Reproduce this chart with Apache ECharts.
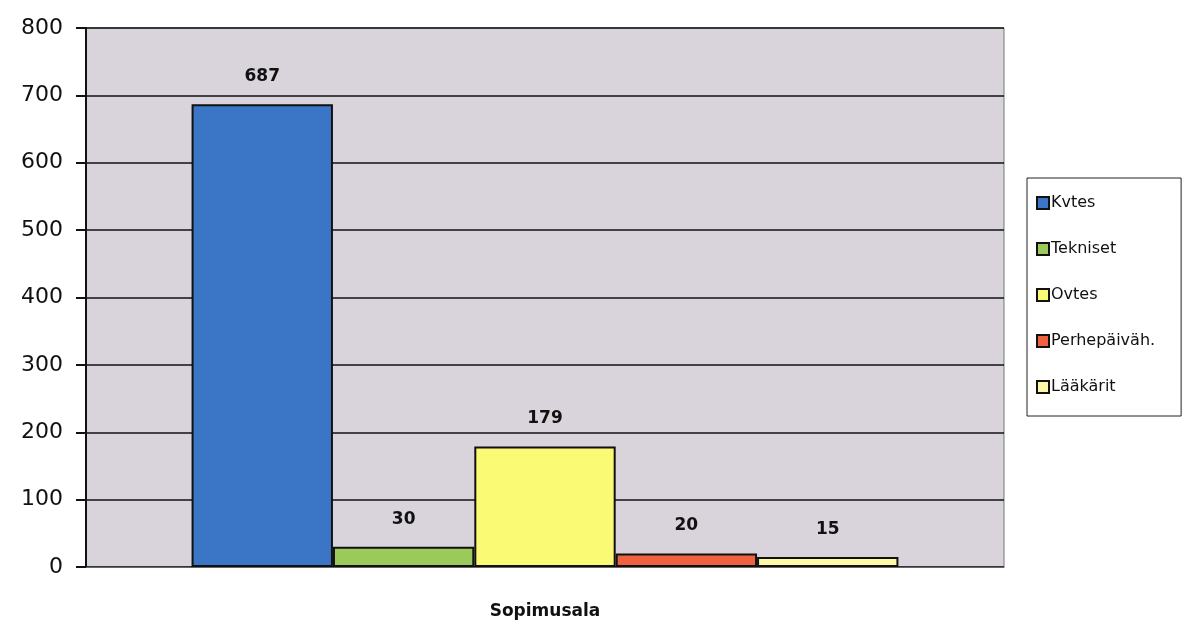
<!DOCTYPE html>
<html>
<head>
<meta charset="utf-8">
<script src="https://cdn.jsdelivr.net/npm/echarts@6/dist/echarts.min.js"></script>
<style>
  html, body { margin: 0; padding: 0; background: #ffffff; }
  #chart { width: 1182px; height: 627px; }
</style>
</head>
<body>
<div id="chart"></div>
<script>
// Sopimusala-kohtaiset määrät
const categories = ['Sopimusala'];
const seriesNames = ['Kvtes', 'Tekniset', 'Ovtes', 'Perhepäiväh.', 'Lääkärit'];
const seriesValues = [687, 30, 179, 20, 15];
const seriesColors = ['#3b76c6', '#9bc95a', '#fbfa74', '#ee6240', '#fbf9a6'];
const yTicks = { min: 0, max: 800, interval: 100 };

const FONT = '"DejaVu Sans", "Liberation Sans", sans-serif';

const chart = echarts.init(document.getElementById('chart'));

const series = seriesNames.map((name, i) => ({
  name: name,
  type: 'bar',
  data: [seriesValues[i]],
  barGap: '0%',
  barCategoryGap: '23%',
  itemStyle: {
    color: seriesColors[i],
    borderColor: '#111111',
    borderWidth: 2
  },
  label: {
    show: true,
    position: 'top',
    distance: 19,
    color: '#111111',
    fontFamily: FONT,
    fontWeight: 'bold',
    fontSize: 17
  }
}));

chart.setOption({
  backgroundColor: '#ffffff',
  animation: false,
  grid: {
    left: 86, right: 178, top: 28, bottom: 60,
    show: true,
    backgroundColor: '#d9d3dc',
    borderColor: '#777777',
    borderWidth: 1
  },
  legend: {
    orient: 'vertical',
    left: 1027,
    top: 178,
    width: 152,
    padding: [17, 26, 21, 9],
    itemGap: 30,
    itemWidth: 12,
    itemHeight: 12,
    icon: 'rect',
    backgroundColor: '#ffffff',
    borderColor: '#222222',
    borderWidth: 1,
    textStyle: { fontFamily: FONT, fontSize: 16, color: '#111111', padding: [0, 0, 0, -3] },
    itemStyle: { borderColor: '#111111', borderWidth: 2 },
    data: seriesNames
  },
  xAxis: {
    type: 'category',
    data: categories,
    axisLine: { show: true, lineStyle: { color: '#666666', width: 1 } },
    axisTick: { show: false },
    axisLabel: {
      margin: 36,
      color: '#111111',
      fontFamily: FONT,
      fontWeight: 'bold',
      fontSize: 17
    }
  },
  yAxis: {
    type: 'value',
    min: yTicks.min,
    max: yTicks.max,
    interval: yTicks.interval,
    axisLine: { show: true, lineStyle: { color: '#111111', width: 2 } },
    axisTick: { show: true, length: 10, lineStyle: { color: '#111111', width: 2 } },
    axisLabel: {
      margin: 23,
      color: '#111111',
      fontFamily: FONT,
      fontWeight: 500,
      fontSize: 22
    },
    splitLine: { show: true, lineStyle: { color: '#111111', width: 1.5 } }
  },
  series: series
});
</script>
</body>
</html>
